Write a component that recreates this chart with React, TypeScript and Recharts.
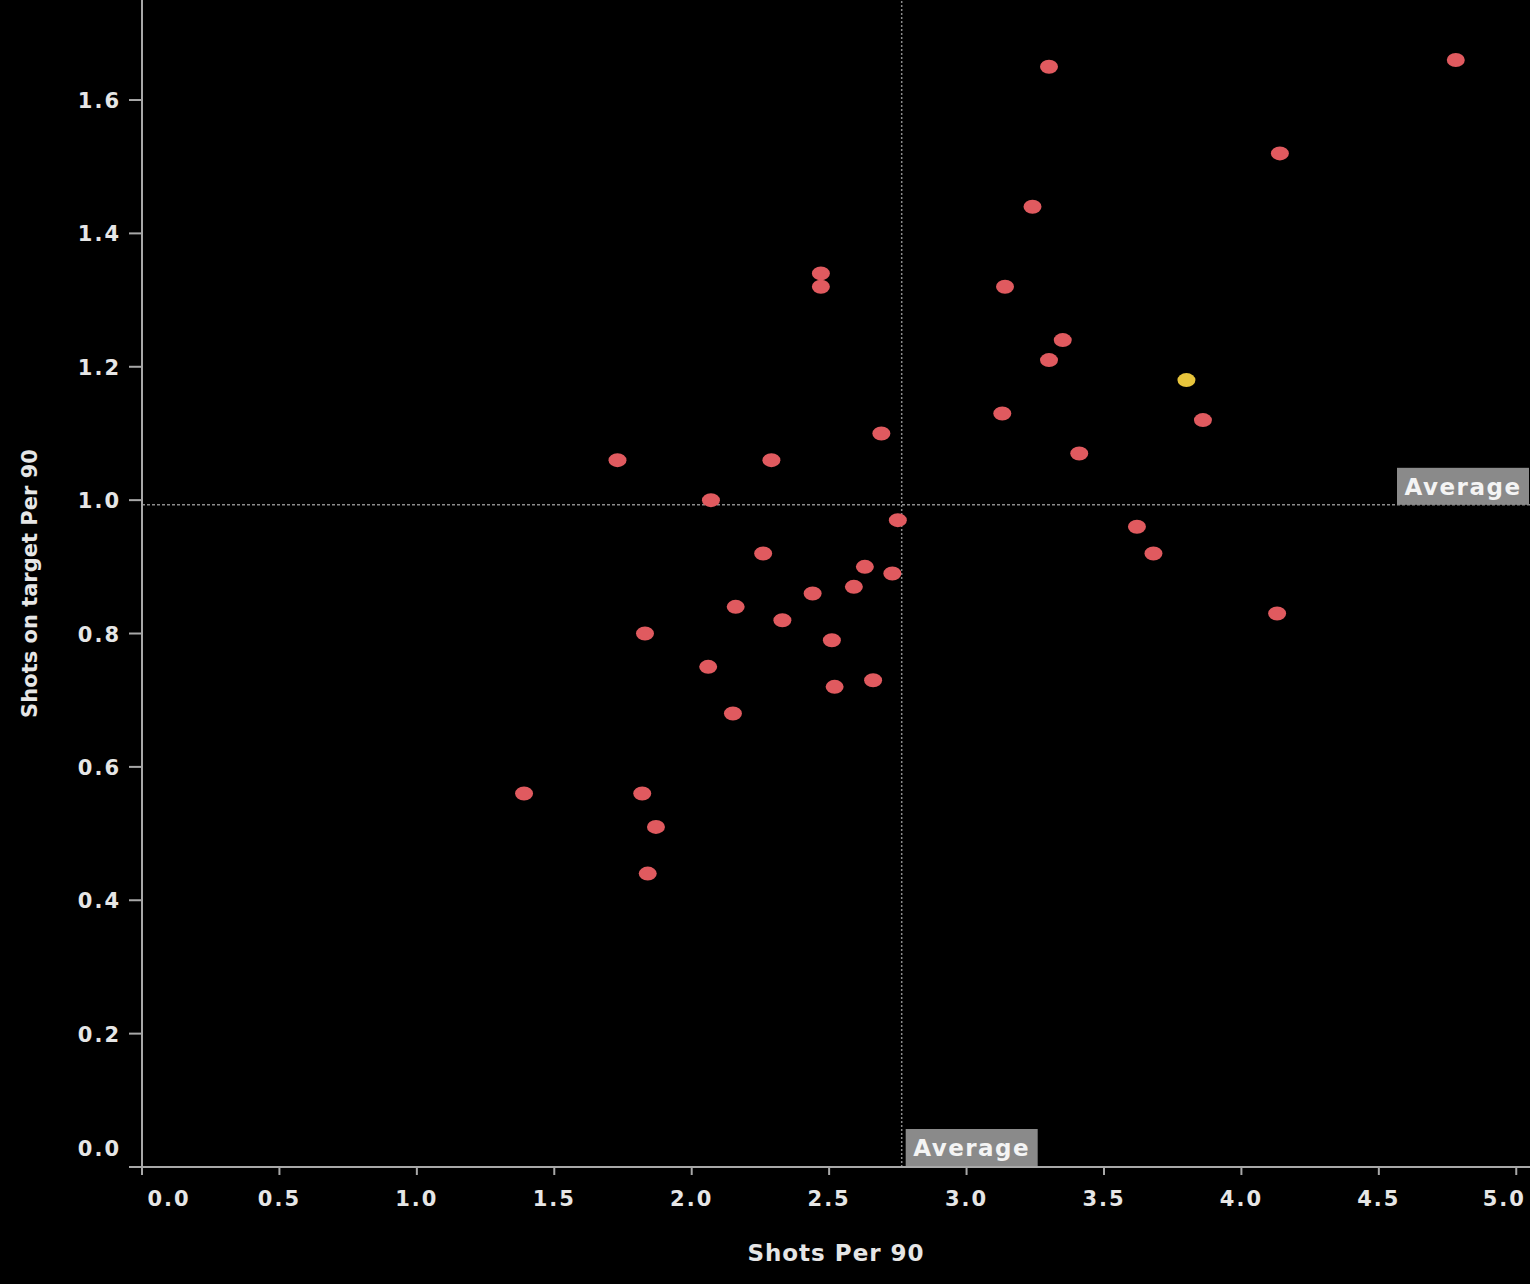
import { ScatterChart, Scatter, XAxis, YAxis, ReferenceLine, Label } from "recharts"

// Shots per 90 (x) and shots on target per 90 (y), one entry per player
const shotsPer90 = [
  4.78, 3.3, 4.14, 3.24, 2.47, 2.47, 3.14, 3.35, 3.3, 3.13, 3.86, 2.69, 3.41, 1.73, 2.29,
  2.07, 2.75, 3.62, 2.26, 3.68, 2.63, 2.73, 2.59, 2.44, 2.16, 4.13, 1.83, 2.33, 2.51, 2.06,
  2.66, 2.52, 2.15, 1.39, 1.82, 1.87, 1.84,
]
const onTargetPer90 = [
  1.66, 1.65, 1.52, 1.44, 1.34, 1.32, 1.32, 1.24, 1.21, 1.13, 1.12, 1.1, 1.07, 1.06, 1.06,
  1.0, 0.97, 0.96, 0.92, 0.92, 0.9, 0.89, 0.87, 0.86, 0.84, 0.83, 0.8, 0.82, 0.79, 0.75,
  0.73, 0.72, 0.68, 0.56, 0.56, 0.51, 0.44,
]
// the highlighted player
const highlightShots = [3.8]
const highlightOnTarget = [1.18]

const avgShots = 2.764
const avgOnTarget = 0.993

const xTicks = [0, 0.5, 1, 1.5, 2, 2.5, 3, 3.5, 4, 4.5, 5]
const yTicks = [0, 0.2, 0.4, 0.6, 0.8, 1.0, 1.2, 1.4, 1.6]

const FONT = "'DejaVu Sans', Verdana, sans-serif"
const TEXT = "#e6e6e6"
const AXIS = "#a8a8a8"

const players = shotsPer90.map((x, i) => ({ x, y: onTargetPer90[i] }))
const highlight = highlightShots.map((x, i) => ({ x, y: highlightOnTarget[i] }))

function Dot(props: any) {
  const { cx, cy, fill } = props
  if (cx == null || cy == null) return null
  return <ellipse cx={cx} cy={cy} rx={9} ry={7} fill={fill} />
}

function XTick(props: any) {
  const { x, y, payload } = props
  // edge labels are nudged inwards, as in the original
  const shift = payload.value === 0 ? 27 : payload.value === 5 ? -12 : 0
  return (
    <text x={x + shift} y={y + 29} textAnchor="middle" fill={TEXT} fontFamily={FONT}
      fontWeight={700} fontSize={21} letterSpacing={2}>
      {payload.value.toFixed(1)}
    </text>
  )
}

function YTick(props: any) {
  const { x, y, payload } = props
  const shift = payload.value === 0 ? -19 : 0
  return (
    <text x={x - 6} y={y + shift + 8} textAnchor="end" fill={TEXT} fontFamily={FONT}
      fontWeight={700} fontSize={21} letterSpacing={2}>
      {payload.value.toFixed(1)}
    </text>
  )
}

function AvgTag({ x, y }: { x: number; y: number }) {
  return (
    <g>
      <rect x={x} y={y} width={132} height={37} fill="#8a8a8a" />
      <text x={x + 66} y={y + 27} textAnchor="middle" fill="#f4f4f4" fontFamily={FONT}
        fontWeight={700} fontSize={23} letterSpacing={1.5}>
        Average
      </text>
    </g>
  )
}

export default function App() {
  return (
    <div style={{ width: 1530, height: 1284, background: "#000" }}>
      <style>{"body{margin:0;background:#000}"}</style>
      <ScatterChart width={1530} height={1284} margin={{ top: 0, right: 0, bottom: 0, left: 0 }}>
        <XAxis type="number" dataKey="x" domain={[0, 5.05]} ticks={xTicks} height={117}
          stroke={AXIS} strokeWidth={2} tickSize={8} tick={<XTick />} interval={0}>
          <Label value="Shots Per 90" position="insideBottom" offset={23} fill={TEXT}
            fontFamily={FONT} fontWeight={700} fontSize={23} letterSpacing={1} />
        </XAxis>
        <YAxis type="number" dataKey="y" domain={[0, 1.75]} ticks={yTicks} width={142}
          stroke={AXIS} strokeWidth={2} tickSize={13} tick={<YTick />} interval={0}>
          <Label value="Shots on target Per 90" angle={-90} position="insideLeft" offset={30}
            fill={TEXT} fontFamily={FONT} fontWeight={700} fontSize={21}
            style={{ textAnchor: "middle" }} />
        </YAxis>
        <ReferenceLine x={avgShots} stroke="#8c8c8c" strokeDasharray="2 2" strokeWidth={1.5}
          label={(p: any) => <AvgTag x={p.viewBox.x + 4} y={p.viewBox.y + p.viewBox.height - 38} />} />
        <ReferenceLine y={avgOnTarget} stroke="#8c8c8c" strokeDasharray="3 2" strokeWidth={1.5}
          label={(p: any) => <AvgTag x={p.viewBox.x + p.viewBox.width - 133} y={p.viewBox.y - 37} />} />
        <Scatter data={players} fill="#e05a5f" shape={<Dot />} isAnimationActive={false} />
        <Scatter data={highlight} fill="#e8c53c" shape={<Dot />} isAnimationActive={false} />
      </ScatterChart>
    </div>
  )
}
